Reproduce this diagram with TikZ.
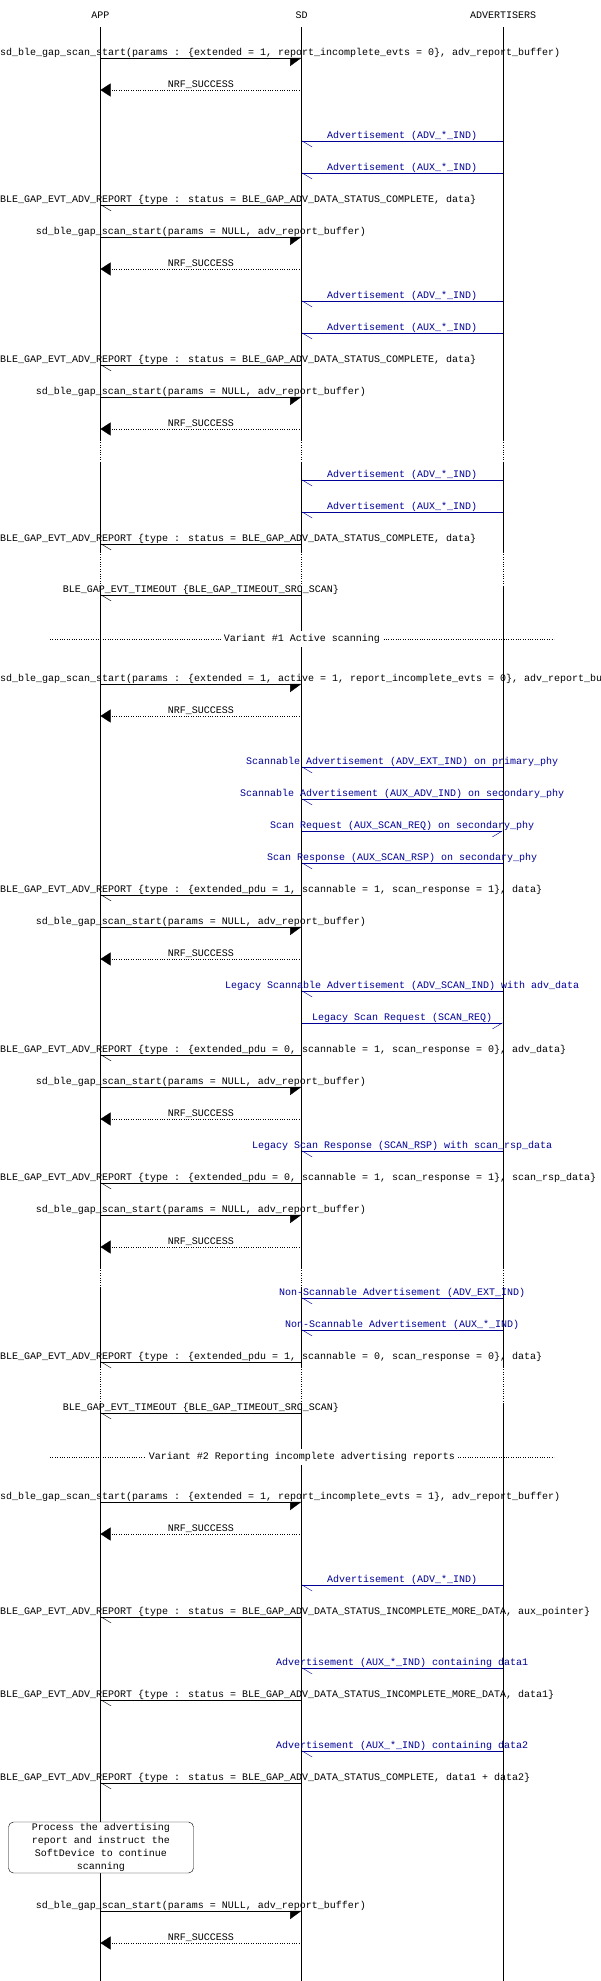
\documentclass[tikz,border=0pt]{standalone}
\usepackage{fontspec}
\setmainfont{Liberation Mono}
\usetikzlibrary{arrows.meta,calc}

\definecolor{advblue}{RGB}{0,0,150}
\tikzset{
  lbl/.style={inner sep=0pt,anchor=base,font=\fontsize{10}{12}\selectfont},
  callmsg/.style={-{Triangle[harpoon,swap,length=11pt,width=16pt]}},
  retmsg/.style={dotted,-{Triangle[length=10pt,width=13pt]}},
  evmsg/.style={-{Straight Barb[harpoon,length=10pt,width=12pt]}},
  rxmsg/.style={advblue,-{Straight Barb[harpoon,length=10pt,width=12pt]}},
  txmsg/.style={advblue,-{Straight Barb[harpoon,swap,length=10pt,width=12pt]}},
  notebox/.style={draw,rounded corners=5pt,minimum width=185pt,minimum height=51pt,inner sep=1pt,align=center,font=\fontsize{10}{13}\selectfont}
}
\newcounter{msgno}
% #1 style, #2 from x, #3 to x, #4 y, #5 label (centred)
\newcommand{\msg}[5]{%
  \stepcounter{msgno}%
  \coordinate (m\arabic{msgno}a) at (#2,#4);
  \coordinate (m\arabic{msgno}b) at (#3,#4);
  \draw[#1] (m\arabic{msgno}a) -- (m\arabic{msgno}b);
  \node[lbl,#1,draw=none,solid] (l\arabic{msgno}) at ($(m\arabic{msgno}a)!0.5!(m\arabic{msgno}b)+(0,-2.5)$) {#5};
}
% same, label pushed to the left edge
\newcommand{\msgl}[5]{%
  \stepcounter{msgno}%
  \coordinate (m\arabic{msgno}a) at (#2,#4);
  \coordinate (m\arabic{msgno}b) at (#3,#4);
  \draw[#1] (m\arabic{msgno}a) -- (m\arabic{msgno}b);
  \node[lbl,anchor=base west] (l\arabic{msgno}) at (0,#4-2.5) {#5};
}
\newcommand{\variant}[2]{%
  \draw[dotted] (50,#1) -- (554,#1);
  \node[lbl,anchor=center,fill=white,inner sep=3pt] at (302,#1) {#2};
}

\begin{document}
\catcode`\_=12
\begin{tikzpicture}[x=1pt,y=-1pt]
\useasboundingbox (0,0) rectangle (600,1981);

% lifelines
\node[lbl] (app) at (100.5,18) {APP};
\node[lbl] (sd) at (301.5,18) {SD};
\node[lbl] (adv) at (503,18) {ADVERTISERS};
\foreach \l in {app,sd,adv}{
  \foreach \a/\b in {27/440,463/552,587/1268,1287/1367,1403/1981}
    \draw (\l |- 0,\a) -- (\l |- 0,\b);
  \foreach \a/\b in {440/463,552/587,1268/1287,1367/1403}
    \draw[dotted] (\l |- 0,\a) -- (\l |- 0,\b);
}

\def\A{100.5}\def\S{301.5}\def\V{503}

% passive scanning
\msgl{callmsg}{\A}{\S}{58}{sd_ble_gap_scan_start(params : \{extended = 1, report_incomplete_evts = 0\}, adv_report_buffer)}
\msg{retmsg}{\S}{\A}{90}{NRF_SUCCESS}
\msg{rxmsg}{\V}{\S}{141}{Advertisement (ADV_*_IND)}
\msg{rxmsg}{\V}{\S}{173}{Advertisement (AUX_*_IND)}
\msgl{evmsg}{\S}{\A}{205}{BLE_GAP_EVT_ADV_REPORT \{type : status = BLE_GAP_ADV_DATA_STATUS_COMPLETE, data\}}
\msg{callmsg}{\A}{\S}{237}{sd_ble_gap_scan_start(params = NULL, adv_report_buffer)}
\msg{retmsg}{\S}{\A}{269}{NRF_SUCCESS}
\msg{rxmsg}{\V}{\S}{301}{Advertisement (ADV_*_IND)}
\msg{rxmsg}{\V}{\S}{333}{Advertisement (AUX_*_IND)}
\msgl{evmsg}{\S}{\A}{365}{BLE_GAP_EVT_ADV_REPORT \{type : status = BLE_GAP_ADV_DATA_STATUS_COMPLETE, data\}}
\msg{callmsg}{\A}{\S}{397}{sd_ble_gap_scan_start(params = NULL, adv_report_buffer)}
\msg{retmsg}{\S}{\A}{429}{NRF_SUCCESS}
\msg{rxmsg}{\V}{\S}{480}{Advertisement (ADV_*_IND)}
\msg{rxmsg}{\V}{\S}{512}{Advertisement (AUX_*_IND)}
\msgl{evmsg}{\S}{\A}{544}{BLE_GAP_EVT_ADV_REPORT \{type : status = BLE_GAP_ADV_DATA_STATUS_COMPLETE, data\}}
\msg{evmsg}{\S}{\A}{595}{BLE_GAP_EVT_TIMEOUT \{BLE_GAP_TIMEOUT_SRC_SCAN\}}

% active scanning
\variant{639}{Variant \#1 Active scanning}
\msgl{callmsg}{\A}{\S}{684}{sd_ble_gap_scan_start(params : \{extended = 1, active = 1, report_incomplete_evts = 0\}, adv_report_buffer)}
\msg{retmsg}{\S}{\A}{716}{NRF_SUCCESS}
\msg{rxmsg}{\V}{\S}{767}{Scannable Advertisement (ADV_EXT_IND) on primary_phy}
\msg{rxmsg}{\V}{\S}{799}{Scannable Advertisement (AUX_ADV_IND) on secondary_phy}
\msg{txmsg}{\S}{\V}{831}{Scan Request (AUX_SCAN_REQ) on secondary_phy}
\msg{rxmsg}{\V}{\S}{863}{Scan Response (AUX_SCAN_RSP) on secondary_phy}
\msgl{evmsg}{\S}{\A}{895}{BLE_GAP_EVT_ADV_REPORT \{type : \{extended_pdu = 1, scannable = 1, scan_response = 1\}, data\}}
\msg{callmsg}{\A}{\S}{927}{sd_ble_gap_scan_start(params = NULL, adv_report_buffer)}
\msg{retmsg}{\S}{\A}{959}{NRF_SUCCESS}
\msg{rxmsg}{\V}{\S}{991}{Legacy Scannable Advertisement (ADV_SCAN_IND) with adv_data}
\msg{txmsg}{\S}{\V}{1023}{Legacy Scan Request (SCAN_REQ)}
\msgl{evmsg}{\S}{\A}{1055}{BLE_GAP_EVT_ADV_REPORT \{type : \{extended_pdu = 0, scannable = 1, scan_response = 0\}, adv_data\}}
\msg{callmsg}{\A}{\S}{1087}{sd_ble_gap_scan_start(params = NULL, adv_report_buffer)}
\msg{retmsg}{\S}{\A}{1119}{NRF_SUCCESS}
\msg{rxmsg}{\V}{\S}{1151}{Legacy Scan Response (SCAN_RSP) with scan_rsp_data}
\msgl{evmsg}{\S}{\A}{1183}{BLE_GAP_EVT_ADV_REPORT \{type : \{extended_pdu = 0, scannable = 1, scan_response = 1\}, scan_rsp_data\}}
\msg{callmsg}{\A}{\S}{1215}{sd_ble_gap_scan_start(params = NULL, adv_report_buffer)}
\msg{retmsg}{\S}{\A}{1247}{NRF_SUCCESS}
\msg{rxmsg}{\V}{\S}{1298}{Non-Scannable Advertisement (ADV_EXT_IND)}
\msg{rxmsg}{\V}{\S}{1330}{Non-Scannable Advertisement (AUX_*_IND)}
\msgl{evmsg}{\S}{\A}{1362}{BLE_GAP_EVT_ADV_REPORT \{type : \{extended_pdu = 1, scannable = 0, scan_response = 0\}, data\}}
\msg{evmsg}{\S}{\A}{1413}{BLE_GAP_EVT_TIMEOUT \{BLE_GAP_TIMEOUT_SRC_SCAN\}}

% incomplete reports
\variant{1457}{Variant \#2 Reporting incomplete advertising reports}
\msgl{callmsg}{\A}{\S}{1502}{sd_ble_gap_scan_start(params : \{extended = 1, report_incomplete_evts = 1\}, adv_report_buffer)}
\msg{retmsg}{\S}{\A}{1534}{NRF_SUCCESS}
\msg{rxmsg}{\V}{\S}{1585}{Advertisement (ADV_*_IND)}
\msgl{evmsg}{\S}{\A}{1617}{BLE_GAP_EVT_ADV_REPORT \{type : status = BLE_GAP_ADV_DATA_STATUS_INCOMPLETE_MORE_DATA, aux_pointer\}}
\msg{rxmsg}{\V}{\S}{1668}{Advertisement (AUX_*_IND) containing data1}
\msgl{evmsg}{\S}{\A}{1700}{BLE_GAP_EVT_ADV_REPORT \{type : status = BLE_GAP_ADV_DATA_STATUS_INCOMPLETE_MORE_DATA, data1\}}
\msg{rxmsg}{\V}{\S}{1751}{Advertisement (AUX_*_IND) containing data2}
\msgl{evmsg}{\S}{\A}{1783}{BLE_GAP_EVT_ADV_REPORT \{type : status = BLE_GAP_ADV_DATA_STATUS_COMPLETE, data1 + data2\}}
\node[notebox,fill=white] (note) at (101,1847.5) {Process the advertising\\report and instruct the\\SoftDevice to continue\\scanning};
\msg{callmsg}{\A}{\S}{1911}{sd_ble_gap_scan_start(params = NULL, adv_report_buffer)}
\msg{retmsg}{\S}{\A}{1943}{NRF_SUCCESS}
\end{tikzpicture}
\end{document}
